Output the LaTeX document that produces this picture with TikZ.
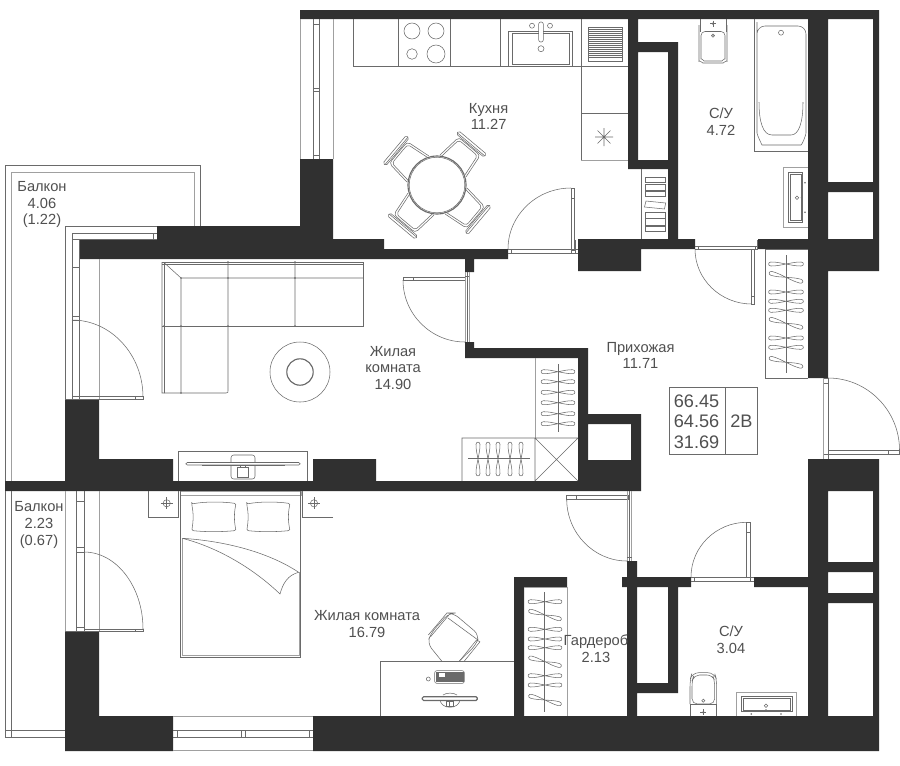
\documentclass[tikz,border=0pt]{standalone}
\usepackage{fontspec}
\setmainfont{Liberation Sans}
\usetikzlibrary{calc}
\definecolor{wallc}{HTML}{303030}
\definecolor{linec}{HTML}{6A6A6A}
\definecolor{paleline}{HTML}{A0A0A0}
\definecolor{textc}{HTML}{505050}
\tikzset{
  wall/.style={fill=wallc,draw=none},
  ln/.style={draw=linec,line width=.4pt},
  pale/.style={draw=paleline,line width=.55pt},
  heavy/.style={draw=linec,line width=.85pt},
  lab/.style={text=textc,font=\fontsize{11}{12.6}\selectfont,inner sep=0pt,anchor=center},
  big/.style={text=textc,font=\fontsize{13.6}{15}\selectfont,inner sep=0pt}
}
\newcommand\qarc[3]{\draw[ln] (#1) .. controls ($(#1)!.55!(#2)$) and ($(#3)!.55!(#2)$) .. (#3);}
\newcommand\hanger[4]{\begin{scope}[shift={(#1,#2)},rotate=#3]
 \draw[ln] (0,0) .. controls (-6,-1.1) and (-9,-2) .. (-#4+2.5,-2) .. controls (-#4-.7,-2) and (-#4-.7,2) .. (-#4+2.5,2) .. controls (-9,2) and (-6,1.1) .. (0,0)
   .. controls (6,-1.1) and (9,-2) .. (#4-2.5,-2) .. controls (#4+.7,-2) and (#4+.7,2) .. (#4-2.5,2) .. controls (9,2) and (6,1.1) .. (0,0);
 \end{scope}}
\newcommand\chair[1]{\begin{scope}[shift={(437,185)},rotate=#1]
 \draw[ln] (25,-17) -- (47,-14.5) .. controls (50,-14) and (50.5,-12) .. (50.5,-10) -- (50.5,10) .. controls (50.5,12) and (50,14) .. (47,14.5) -- (25,17);
 \draw[ln] (25,-15) -- (46,-12.5) .. controls (48,-12) and (48.5,-10) .. (48.5,-9) -- (48.5,9) .. controls (48.5,10) and (48,12) .. (46,12.5) -- (25,15);
 \draw[ln,rounded corners=1.2pt] (51.5,-18) rectangle (55.5,18);
 \draw[ln] (53,-18) -- (53,18);
 \end{scope}}
\newcommand\pcross[2]{\draw[ln] (#1,#2) circle (3.6); \draw[ln] (#1-6,#2) -- (#1+6,#2) (#1,#2-6) -- (#1,#2+6);}
\begin{document}
\begin{tikzpicture}[x=.75pt,y=-.75pt]
\useasboundingbox (0,0) rectangle (900,765);
\fill[white] (0,0) rectangle (900,765);
% walls
\fill[wall] (300,10) rectangle (879,19) (808,10) rectangle (828,378) (873,10) rectangle (879,271)
 (828,182) rectangle (873,192) (808,239) rectangle (879,271) (628,19) rectangle (638,169)
 (628,42) rectangle (678,52) (668,42) rectangle (678,249) (628,160) rectangle (678,169)
 (578,239) rectangle (695,249) (578,249) rectangle (641,271) (758,239) rectangle (808,249)
 (79,240) rectangle (157,259) (157,226) rectangle (300,259) (300,159) rectangle (333,259)
 (333,239) rectangle (384,259) (384,249) rectangle (508,259) (465,259) rectangle (474,272)
 (465,342) rectangle (474,358) (465,348) rectangle (588,358) (578,348) rectangle (588,481)
 (578,414) rectangle (641,424) (631,414) rectangle (641,481) (578,460) rectangle (641,491)
 (5,481) rectangle (641,491) (65,399) rectangle (99,481) (65,459) rectangle (173,481)
 (313,459) rectangle (376,481) (65,631) rectangle (99,751) (65,716) rectangle (173,751)
 (313,716) rectangle (879,751) (514,577) rectangle (524,716) (514,577) rectangle (567,587)
 (627,561) rectangle (637,716) (622,577) rectangle (691,587) (668,587) rectangle (678,693)
 (637,683) rectangle (678,693) (754,577) rectangle (808,587) (808,459) rectangle (828,716)
 (808,459) rectangle (879,491) (873,491) rectangle (879,716) (828,562) rectangle (873,572)
 (828,593) rectangle (873,603);
% upper balcony
\draw[ln] (5,481) -- (5,165) -- (200,165) -- (200,226);
\draw[pale] (11,481) -- (11,172) -- (194,172) -- (194,226);
\draw[ln] (65,399) -- (65,226) -- (157,226);
\draw[ln] (72,399) -- (72,233) -- (157,233) (79,399) -- (79,240) (72,239.5) -- (157,239.5) (153.5,233) -- (153.5,239.5);
\draw[ln] (72,267) -- (79,267) (72,316) -- (79,316) (72,320) -- (79,320);
\draw[pale] (99,259) -- (99,399);
\draw[ln] (72,396.5) -- (143,396.5) -- (143,399) -- (65,399) (135,396.5) -- (135,399);
\qarc{72,320}{143,320}{143,397}
% lower balcony
\draw[ln] (5,491) -- (5,737) -- (65,737) (11,491) -- (11,737) (5,730) -- (65,730);
\draw[pale] (65,491) -- (65,631) (99,491) -- (99,631);
\draw[ln] (76.5,491) -- (76.5,631) (84,491) -- (84,631) (76.5,501) -- (84,501) (76.5,547) -- (84,547) (76.5,552) -- (84,552) (76.5,627) -- (84,627);
\draw[ln] (84,629) -- (143,629) -- (143,631.5) -- (65,631.5) (135,629) -- (135,631.5);
\qarc{84,552}{143,552}{143,629}
% window bottom
\draw[pale] (173,716.5) -- (313,716.5) (173,750.5) -- (313,750.5);
\draw[ln] (173,730.5) -- (313,730.5) (173,737) -- (313,737);
\draw[ln] (177,730.5) -- (177,737) (241.5,730.5) -- (241.5,737) (245.5,730.5) -- (245.5,737) (309,730.5) -- (309,737);
% kitchen window
\draw[ln] (313.5,19) -- (313.5,159) (319.5,19) -- (319.5,159) (313.5,24) -- (319.5,24) (313.5,88) -- (319.5,88) (313.5,91.5) -- (319.5,91.5) (313.5,155) -- (319.5,155);
\draw[pale] (300,19) -- (300,159) (333,19) -- (333,159);
% kitchen counter
\draw[ln] (353,19) -- (353,66) -- (628,66) (398,19) -- (398,66) (450,19) -- (450,66) (500,19) -- (500,66) (581,19) -- (581,160) (581,113) -- (628,113);
\draw[pale] (581,160) -- (628,160);
\draw[ln] (412,31) circle (8) (436,31) circle (8) (412,54) circle (5.3) (436,54) circle (9);
\draw[ln] (508,31) rectangle (572,66) (512,33) rectangle (569,64);
\fill[white] (538.7,22) rectangle (543.3,42);
\draw[ln,rounded corners=1.5pt] (538.7,22) rectangle (543.3,42);
\draw[ln] (532,25.7) circle (2.5) (550,25.7) circle (2.5) (541,48.7) circle (3);
\draw[ln] (588,27) rectangle (622,61);
\foreach \yy in {29,31,...,57}{\draw[draw=linec,line width=.5pt] (588.5,\yy) -- (621.5,\yy);}
\draw[ln] (595,137) -- (613,137) (604,128) -- (604,146) (597.6,130.6) -- (610.4,143.4) (597.6,143.4) -- (610.4,130.6);
\fill[linec] (604,137) circle (1);
% table and chairs
\chair{140}\chair{50}\chair{-40}\chair{-130}
\fill[white] (437,185) circle (29);
\draw[heavy] (437,185) circle (29);
\draw[ln] (437,185) circle (27.8);
% kitchen door
\draw[ln] (571,188) rectangle (574.5,250) (571,198) -- (574.5,198);
\draw[ln] (508,249.5) -- (578,249.5) (508,253) -- (578,253) (511,249.5) -- (511,253) (571,249.5) -- (571,253) (575,240) -- (575,253);
\qarc{508,249}{508,188}{571,188}
% bath
\draw[ln] (754,19) -- (754,151) -- (808,151);
\draw[ln,rounded corners=6pt] (757,30) -- (757,26) -- (806,26) -- (806,125) .. controls (806,135) and (802,145) .. (793,145) -- (770,145) .. controls (762,145) and (757,135) .. (757,125) -- cycle;
\draw[ln] (759,102) .. controls (759,122) and (763,135) .. (772,135) -- (791,135) .. controls (799,135) and (803,122) .. (803,102);
\draw[ln] (781,32.7) circle (2.5);
% upper toilet
\draw[ln,rounded corners=4pt] (699,25) -- (699,56) .. controls (699,60) and (703,63) .. (708,63) -- (718,63) .. controls (723,63) and (727,60) .. (727,56) -- (727,25);
\draw[ln,rounded corners=3pt] (701,31.5) -- (701,55) .. controls (701,58) and (704,61) .. (708,61) -- (718,61) .. controls (722,61) and (725,58) .. (725,55) -- (725,31.5) -- cycle;
\draw[ln] (700,19) -- (700,31.5) (726.5,19) -- (726.5,31.5);
\draw[ln] (713,35.7) circle (1.6);
\fill[linec] (713,35.7) circle (.7) (713,23.7) circle (1.3);
\draw[ln] (710,23.7) -- (716,23.7) (713,20.7) -- (713,26.7);
% bath sink
\draw[pale] (808,167.7) -- (783,167.7) -- (783,227.7) -- (808,227.7);
\draw[ln] (788,172.7) rectangle (802.7,222.3) (790.3,174.5) rectangle (800.8,220.5);
\draw[ln] (797,197.7) circle (1.8);
\fill[linec] (805,182.7) circle (.9) (805,212.3) circle (.9) (801.5,197.7) circle (.9);
% shelf
\draw[ln] (641,169) -- (641,239);
\foreach \ya/\yb in {177/182.7,184.3/190,191.3/196.7,212.3/218.3,218.3/225,226.3/231.7}{\draw[ln] (645,\ya) rectangle (665.7,\yb);}
\draw[ln] (646,201) -- (665.7,203) -- (664.5,209) -- (644.5,207) -- cycle;
% upper bath door
\draw[ln] (695,246) -- (758,246) (695,249.3) -- (758,249.3) (698,246) -- (698,249.3) (755,246) -- (755,249.3);
\draw[ln] (751.7,249) rectangle (754.5,304) (751.7,296) -- (754.5,296) (757.3,249) -- (757.3,240);
\qarc{695,249}{695,304}{751.7,304}
% hall wardrobe
\draw[ln] (808,249) -- (765,249) -- (765,378) -- (808,378);
\draw[ln] (786,255) -- (786,373);
\foreach \yy/\aa in {264/0,277.3/-15,292/0,301.3/0,310.3/0,323.3/-15,338/0,347.3/0,362.3/-15}{\hanger{786}{\yy}{\aa}{17.5}}
% entrance door
\draw[pale] (823.5,378) -- (823.5,459);
\draw[ln] (823.5,378) -- (828,378) (823.5,383) -- (828,383) (823.5,454) -- (828,454) (828,378) -- (828,459);
\draw[ln] (828,450) rectangle (899.5,454) (888,450) -- (888,454);
\qarc{828,378}{899.5,378}{899.5,450}
% info box
\draw[ln] (669,387) rectangle (757,454.5) (725.7,387) -- (725.7,454.5);
\node[big,anchor=east] (area1) at (719.5,401) {66.45};
\node[big,anchor=east] (area2) at (719.5,421.5) {64.56};
\node[big,anchor=east] (area3) at (719.5,442) {31.69};
\node[big,anchor=center] (typ) at (741.5,421.5) {2В};
% living door
\draw[ln] (403,277) rectangle (465,280) (413.5,277) -- (413.5,280);
\draw[pale] (465,272) -- (465,342) (469,272) -- (469,342);
\draw[ln] (467,272) -- (467,342) (465,276) -- (469,276);
\qarc{403,280}{403,342}{465,342}
% living wardrobe
\draw[pale] (535,358) -- (535,438);
\draw[ln] (558,364) -- (558,432);
\foreach \yy in {371.7,381.7,392.3,402.7,413.7,423.7}{\hanger{558}{\yy}{0}{17}}
\draw[ln] (535,438) -- (578,438) (462,481) -- (462,438) -- (535,438) -- (535,481) (535,438) -- (578,481) (578,438) -- (535,481);
\draw[ln] (468,458.5) -- (530,458.5);
\foreach \xx in {478,488,498,510,521}{\hanger{\xx}{459}{90}{17}}
% sofa
\draw[ln] (162,262) -- (363,262) -- (363,326) -- (162,326);
\draw[ln] (162,262) -- (162,393) -- (226,393) .. controls (228,393) and (228,392) .. (228,391) -- (228,262);
\draw[ln] (164.5,262) -- (164.5,393) (164.5,263) -- (181,278) -- (181,393) (181,278) -- (363,278) (295,262) -- (295,326) (162,264.5) -- (363,264.5);
\foreach \pp in {(228,262),(295,262),(228,278),(295,278),(181,278),(181,326),(164,326),(181,393),(228,326),(295,326)}{\fill[linec] \pp circle (.9);}
% rug
\draw[ln] (300,372) circle (30);
\draw[heavy] (300,372) circle (13.2);
% tv
\draw[ln] (178,481) -- (178,451) -- (307,451) -- (307,481);
\draw[ln,rounded corners=2pt] (231,455) rectangle (255,479);
\draw[ln] (237,467) rectangle (248,477) (240,467) -- (240,464) (245,467) -- (245,464);
\fill[white] (186,462.5) rectangle (300,465);
\draw[ln,rounded corners=1pt] (186,462.5) rectangle (300,465);
\draw[heavy] (202,465.5) -- (285,465.5);
% bed and night tables
\draw[pale] (180,491.5) rectangle (301,495.5);
\draw[ln] (148.3,491) -- (148.3,517.3) -- (178.3,517.3) -- (178.3,491) (333,517.3) -- (302,517.3) -- (302,491);
\pcross{166.7}{503.3}
\pcross{314}{503.3}
\draw[ln] (180.3,491) -- (180.3,657) -- (300.7,657) -- (300.7,491);
\draw[pale] (182.3,538.3) -- (182.3,655.3) -- (299,655.3) -- (299,572.3);
\draw[ln] (182.3,538.3) .. controls (225,541) and (268,552) .. (298.7,572.3) .. controls (288,575) and (283,583) .. (280,594) .. controls (255,570) and (220,548) .. (182.3,538.3);
\draw[ln,rounded corners=1pt] (191.7,504) .. controls (205,501.5) and (222,501.5) .. (236,503.5) .. controls (234,513) and (234,521) .. (236,530.5) .. controls (222,532) and (205,532) .. (191.7,530.5) .. controls (193.5,521) and (193.5,513) .. (191.7,504) -- cycle;
\draw[ln,rounded corners=1pt] (246.7,504) .. controls (260,501.5) and (276,501.5) .. (290,503.5) .. controls (288,513) and (288,521) .. (290,530.5) .. controls (276,532) and (260,532) .. (246.7,530.5) .. controls (248.5,521) and (248.5,513) .. (246.7,504) -- cycle;
% desk
\draw[ln] (514,661.3) -- (380.3,661.3) -- (380.3,716);
\draw[ln,rounded corners=5pt] (441.7,661) -- (427.3,643.3) -- (431,633) -- (449,613) -- (453.3,613) -- (479.3,635) -- (476,645) -- (459.3,661);
\draw[ln] (428.3,635) -- (446.7,613.3) (430.3,637) -- (448.7,615.3);
\draw[ln] (448,618) -- (478,640);
\draw[ln] (480,641.7) -- (464,661.5) (476.5,640) -- (460,660.5) (480,641.7) -- (476.5,640);
\fill[linec] (435.5,671.5) rectangle (463.5,682);
\draw[ln,rounded corners=1.5pt] (434.7,670.7) rectangle (464.3,683.3);
\fill[white] (439,672.5) rectangle (445,676.5);
\draw[ln] (428.3,679) circle (2);
\draw[ln] (440,699) .. controls (440,710) and (460,710) .. (460,699);
\draw[ln] (443,695) .. controls (446,692.5) and (454,692.5) .. (457,695);
\draw[ln] (446.5,701) rectangle (453.5,706) (449,701) -- (449,706);
\fill[white] (422.3,696.7) rectangle (477.3,701);
\draw[heavy,rounded corners=1pt] (422.3,696.7) rectangle (477.3,700.5);
% lower wardrobe
\draw[pale] (524,587.5) -- (567,587.5) -- (567,715.5);
\draw[ln] (544,592) -- (544,712);
\foreach \yy/\aa in {601.7/0,615/-15,629.3/0,639/0,647.7/0,661.7/-15,675.7/0,685/0,700/-15}{\hanger{545}{\yy}{\aa}{17}}
% wardrobe door
\draw[ln] (566.7,495.7) rectangle (628,499.3) (576,495.7) -- (576,499.3);
\draw[pale] (627.3,491) -- (627.3,561) (631.5,491) -- (631.5,561);
\draw[ln] (629.5,491) -- (629.5,561) (627.3,557) -- (631.5,557);
\qarc{566.7,499}{566.7,561}{627,561}
% lower bath door
\draw[ln] (746.7,522.3) rectangle (750,577) (746.7,532) -- (750,532);
\draw[ln] (691,577.5) -- (754,577.5) (691,581) -- (754,581) (694,577.5) -- (694,581) (750,577.5) -- (750,581);
\qarc{691,577}{691,522.3}{746.7,522.3}
% lower toilet
\draw[ln,rounded corners=5pt] (690,704) -- (690,680) -- (692,672.7) -- (714.5,672.7) -- (716.7,680) -- (716.7,704);
\draw[ln,rounded corners=4pt] (692,704) -- (692,681) -- (694,675) -- (712.5,675) -- (714.7,681) -- (714.7,704) -- cycle;
\draw[ln] (690.5,716) -- (690.5,704.5) -- (716.5,704.5) -- (716.5,716);
\draw[ln] (703.3,700.7) circle (1.6);
\fill[linec] (703.3,712.3) circle (1.3);
\draw[ln] (700.3,712.3) -- (706.3,712.3) (703.3,709.3) -- (703.3,715.3);
% lower sink
\draw[pale] (736.7,716) -- (736.7,692) -- (796.7,692) -- (796.7,716);
\draw[ln] (741,696.7) rectangle (792,711.7) (742.8,698.3) rectangle (790.2,710);
\draw[ln] (766,705.7) circle (1.8);
\fill[linec] (751.3,714) circle (.9) (781,714) circle (.9) (766,710) circle (.9);
% labels
\node[lab,align=center] (balc1) at (42,204.5) {Балкон\\4.06\\(1.22)};
\node[lab,align=center] (balc2) at (39,525) {Балкон\\2.23\\(0.67)};
\node[lab,align=center] (kitchen) at (488.6,116.5) {Кухня\\11.27};
\node[lab,align=center] (bath1) at (721,121.5) {С/У\\4.72};
\node[lab,align=center] (living1) at (393,368) {Жилая\\комната\\14.90};
\node[lab,align=center] (hall) at (640.5,355.5) {Прихожая\\11.71};
\node[lab,align=center] (living2) at (367,624) {Жилая комната\\16.79};
\node[lab,align=center] (dress) at (596,648.5) {Гардероб\\2.13};
\node[lab,align=center] (bath2) at (731,639.5) {С/У\\3.04};
\end{tikzpicture}
\end{document}
